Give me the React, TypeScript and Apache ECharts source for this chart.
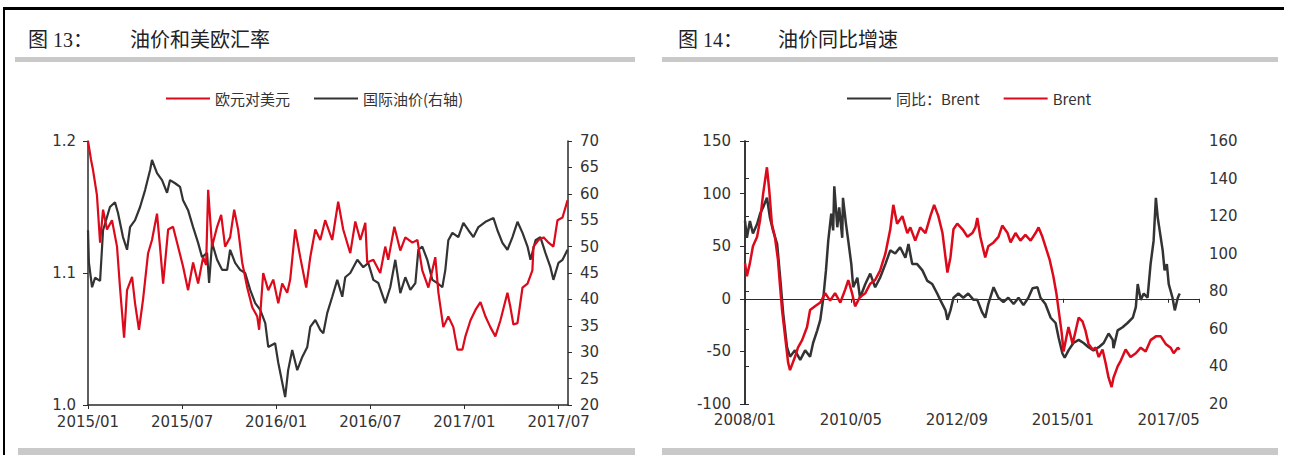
import React, { useEffect, useRef } from "react";
import * as echarts from "echarts";

// ---------- Chart 1 (图13): months since 2015/01 ----------
const eurMonth = [0, 0.19, 0.32, 0.57, 0.77, 0.96, 1.21, 1.53, 1.85, 2.04, 2.3, 2.49, 2.81, 3.0, 3.25, 3.51, 3.83, 4.08, 4.4, 4.59, 4.79, 5.11, 5.42, 5.74, 6.06, 6.38, 6.7, 7.02, 7.34, 7.53, 7.66, 7.91, 8.23, 8.49, 8.74, 9.06, 9.32, 9.57, 9.83, 10.15, 10.47, 10.79, 10.91, 11.17, 11.49, 11.81, 12.13, 12.38, 12.7, 12.89, 13.21, 13.53, 13.91, 14.17, 14.49, 14.81, 15.12, 15.57, 15.95, 16.27, 16.72, 17.04, 17.36, 17.68, 17.8, 18.19, 18.63, 18.95, 19.14, 19.53, 19.91, 20.23, 20.68, 21.0, 21.31, 21.7, 22.14, 22.34, 22.65, 22.97, 23.29, 23.55, 23.87, 24.06, 24.38, 24.7, 25.02, 25.34, 25.65, 25.97, 26.29, 26.74, 26.93, 27.12, 27.38, 27.7, 28.02, 28.33, 28.4, 28.72, 29.04, 29.36, 29.67, 29.93, 30.25, 30.57];
const eurRate = [1.2, 1.186, 1.178, 1.159, 1.123, 1.148, 1.133, 1.14, 1.12, 1.089, 1.051, 1.087, 1.097, 1.077, 1.057, 1.08, 1.115, 1.125, 1.145, 1.12, 1.092, 1.133, 1.135, 1.12, 1.105, 1.087, 1.108, 1.092, 1.112, 1.106, 1.163, 1.12, 1.135, 1.144, 1.12, 1.127, 1.148, 1.133, 1.108, 1.089, 1.074, 1.067, 1.057, 1.1, 1.087, 1.095, 1.077, 1.092, 1.085, 1.095, 1.133, 1.112, 1.089, 1.112, 1.133, 1.125, 1.14, 1.125, 1.154, 1.133, 1.115, 1.139, 1.125, 1.138, 1.108, 1.11, 1.1, 1.12, 1.11, 1.135, 1.117, 1.127, 1.123, 1.125, 1.102, 1.089, 1.112, 1.085, 1.059, 1.067, 1.059, 1.042, 1.042, 1.052, 1.064, 1.072, 1.078, 1.067, 1.059, 1.052, 1.064, 1.085, 1.074, 1.061, 1.062, 1.089, 1.092, 1.102, 1.12, 1.125, 1.127, 1.123, 1.12, 1.14, 1.142, 1.155];

const oilMonth = [0, 0.06, 0.26, 0.45, 0.77, 0.96, 1.4, 1.72, 1.91, 2.23, 2.49, 2.68, 3.0, 3.32, 3.64, 3.96, 4.08, 4.4, 4.72, 5.04, 5.23, 5.55, 5.87, 6.06, 6.38, 6.7, 7.02, 7.27, 7.59, 7.72, 7.91, 8.23, 8.55, 8.87, 9.06, 9.38, 9.7, 10.02, 10.34, 10.66, 10.98, 11.3, 11.49, 11.93, 12.13, 12.44, 12.57, 12.76, 13.02, 13.34, 13.66, 13.98, 14.17, 14.49, 14.81, 15.0, 15.25, 15.57, 15.89, 16.21, 16.4, 16.72, 17.17, 17.55, 17.87, 18.19, 18.51, 18.95, 19.27, 19.59, 19.91, 20.23, 20.55, 20.87, 21.06, 21.31, 21.63, 21.95, 22.27, 22.59, 22.78, 22.97, 23.23, 23.61, 23.93, 24.25, 24.57, 24.89, 25.34, 25.85, 26.1, 26.42, 26.74, 27.06, 27.38, 27.7, 28.02, 28.21, 28.53, 28.84, 29.16, 29.48, 29.67, 29.99, 30.25, 30.57];
const oilPrice = [53.1, 46.9, 42.3, 44.1, 43.5, 53.1, 57.5, 58.4, 56.4, 51.8, 49.4, 53.7, 55.0, 57.5, 60.7, 64.5, 66.4, 63.9, 62.6, 60.2, 62.6, 62.0, 61.3, 58.8, 56.9, 53.7, 50.7, 48.0, 48.8, 43.1, 50.7, 47.5, 45.6, 45.6, 49.4, 46.9, 45.6, 45.0, 41.8, 39.3, 38.0, 35.5, 31.0, 31.7, 28.0, 23.4, 21.5, 26.6, 30.4, 26.6, 29.1, 31.0, 34.8, 36.1, 34.2, 33.6, 37.4, 40.5, 43.7, 40.5, 44.2, 45.0, 47.5, 46.1, 46.9, 43.7, 43.1, 39.3, 42.3, 47.5, 41.2, 44.2, 41.8, 43.1, 49.4, 50.0, 47.5, 43.7, 43.1, 42.3, 45.6, 51.2, 52.6, 51.8, 54.5, 53.1, 51.8, 53.7, 54.7, 55.4, 53.1, 50.7, 49.4, 51.8, 54.7, 52.6, 50.0, 47.5, 51.2, 51.8, 48.8, 46.1, 43.7, 46.9, 47.5, 49.4];

// ---------- Chart 2 (图14): months since 2008/01 ----------
const yoyMonth = [0, 0.5, 1.3, 2.1, 3.2, 4.0, 4.8, 5.8, 6.6, 7.4, 8.5, 9.3, 10.1, 11.1, 11.9, 13.2, 14.6, 15.9, 17.2, 18.0, 19.1, 19.9, 20.7, 21.4, 22.0, 22.8, 23.3, 23.6, 24.4, 24.9, 25.7, 25.9, 26.7, 27.3, 28.1, 28.6, 29.7, 30.4, 31.8, 33.1, 34.4, 35.7, 37.1, 38.4, 39.7, 41.0, 42.4, 43.2, 44.2, 45.5, 46.9, 48.2, 49.5, 50.8, 51.6, 53.0, 53.5, 54.3, 55.1, 56.4, 57.7, 59.0, 60.4, 61.4, 62.7, 63.5, 64.3, 65.7, 67.0, 68.3, 69.6, 71.0, 72.3, 73.6, 74.9, 76.0, 77.3, 78.1, 79.4, 80.8, 82.1, 82.9, 83.9, 84.5, 85.5, 86.8, 88.2, 89.5, 90.8, 92.1, 93.5, 94.8, 96.1, 97.2, 97.4, 98.5, 99.8, 101.1, 102.5, 103.3, 103.8, 104.6, 105.4, 106.4, 107.2, 108.0, 108.6, 109.1, 109.6, 110.4, 110.9, 111.5, 112.0, 113.0, 113.6, 114.4, 114.9];
const yoyValue = [74, 58, 74, 62, 71, 81, 87, 96, 77, 65, 52, 20, -14, -46, -55, -49, -58, -49, -55, -42, -30, -20, 1, 27, 55, 81, 65, 107, 68, 87, 58, 96, 71, 55, 33, 11, 20, 1, 14, 24, 11, 20, 33, 46, 43, 49, 39, 52, 33, 33, 27, 17, 14, 5, -1, -11, -20, -11, 1, 5, 1, 5, -1, -1, -13, -18, -5, 11, 1, -3, 1, -5, 1, -6, 1, 10, 11, 1, -5, -18, -23, -37, -52, -56, -49, -42, -39, -42, -46, -49, -46, -42, -33, -39, -47, -30, -27, -23, -18, -8, 14, -1, 5, 1, 33, 55, 96, 77, 65, 46, 27, 33, 14, 1, -11, 1, 5];

const brentMonth = [0, 0.5, 1.3, 2.1, 3.2, 4.0, 4.8, 5.8, 6.4, 7.1, 7.9, 8.7, 9.3, 9.8, 10.6, 11.4, 11.9, 13.2, 14.0, 15.1, 16.4, 17.2, 18.5, 19.9, 21.2, 22.5, 23.8, 25.2, 26.5, 27.3, 28.3, 29.1, 30.4, 31.8, 33.1, 34.4, 35.7, 37.1, 38.4, 39.2, 40.2, 41.6, 42.9, 43.7, 45.0, 46.3, 47.7, 49.0, 50.0, 51.1, 52.2, 53.0, 53.5, 54.3, 55.1, 56.1, 57.5, 58.8, 60.1, 60.9, 61.4, 62.2, 63.5, 64.3, 65.7, 67.0, 68.0, 69.4, 70.2, 71.5, 72.8, 74.1, 75.5, 76.8, 77.6, 78.6, 79.7, 80.5, 81.5, 82.3, 82.9, 83.7, 84.2, 85.0, 85.5, 86.6, 87.4, 88.2, 89.2, 90.0, 90.8, 91.9, 92.7, 93.5, 94.5, 95.3, 96.1, 96.9, 97.4, 98.5, 99.3, 100.6, 101.9, 103.3, 104.6, 105.9, 107.2, 108.6, 109.9, 111.2, 112.5, 113.3, 114.4, 114.9];
const brentPrice = [95, 88, 95, 104, 109, 118, 132, 146, 134, 116, 109, 97, 82, 70, 56, 42, 38, 45, 50, 54, 61, 70, 72, 74, 79, 75, 79, 74, 81, 86, 79, 72, 77, 79, 84, 86, 91, 100, 113, 126, 116, 120, 111, 114, 107, 114, 111, 120, 126, 120, 111, 98, 90, 98, 113, 116, 113, 109, 111, 114, 119, 109, 98, 104, 106, 109, 115, 111, 106, 111, 107, 110, 107, 111, 114, 109, 102, 97, 88, 79, 70, 58, 48, 56, 61, 52, 59, 66, 64, 59, 52, 49, 50, 45, 49, 42, 34, 29, 34, 40, 43, 49, 45, 47, 50, 48, 54, 56, 56, 52, 50, 47, 50, 49];

const RED = "#dc0a1a";
const DARK = "#333333";
const AXIS = "#2b2b2b";
const LABEL_FONT = "'DejaVu Sans', sans-serif";
const CJK_FONT = "'Noto Sans CJK SC', sans-serif";
const TITLE_FONT = "'Liberation Serif', 'Noto Sans CJK SC', serif";

const zip = (xs: number[], ys: number[]) => xs.map((x, i) => [x, ys[i]]);
const pad = (n: number) => (n < 10 ? "0" + n : "" + n);
const monthLabel = (startYear: number, startMonth: number, step: number, last: number) => (v: number) => {
  if (Math.abs(v / step - Math.round(v / step)) > 1e-6 || v > last + 1e-6) return "";
  const total = startMonth - 1 + Math.round(v);
  return startYear + Math.floor(total / 12) + "/" + pad((total % 12) + 1);
};

const axisLabel = { color: "#333", fontSize: 15, lineHeight: 15, fontFamily: LABEL_FONT };
const axisLine = { show: true, lineStyle: { color: AXIS, width: 1.5 } };
const legendText = { fontSize: 15, color: "#333", fontFamily: CJK_FONT };

export default function App() {
  const ref = useRef<HTMLDivElement>(null);
  useEffect(() => {
    if (!ref.current) return;
    const chart = echarts.init(ref.current, undefined, { renderer: "svg" });
    const option: any = {
      animation: false,
      backgroundColor: "#fff",
      graphic: [
        { type: "rect", shape: { x: 3, y: 7, width: 1281, height: 3 }, style: { fill: "#000" } },
        { type: "rect", shape: { x: 3, y: 7, width: 2, height: 448 }, style: { fill: "#000" } },
        { type: "rect", shape: { x: 15, y: 57, width: 620, height: 5 }, style: { fill: "#c9c9c9" } },
        { type: "rect", shape: { x: 662, y: 57, width: 616, height: 5 }, style: { fill: "#c9c9c9" } },
        { type: "rect", shape: { x: 18, y: 448, width: 617, height: 7 }, style: { fill: "#c9c9c9" } },
        { type: "rect", shape: { x: 662, y: 448, width: 616, height: 7 }, style: { fill: "#c9c9c9" } },
        { type: "text", x: 28, y: 40, style: { text: "图 13：", font: "20px " + TITLE_FONT, fill: "#222", verticalAlign: "middle" } },
        { type: "text", x: 130, y: 40, style: { text: "油价和美欧汇率", font: "20px " + TITLE_FONT, fill: "#222", verticalAlign: "middle" } },
        { type: "text", x: 678, y: 40, style: { text: "图 14：", font: "20px " + TITLE_FONT, fill: "#222", verticalAlign: "middle" } },
        { type: "text", x: 778, y: 40, style: { text: "油价同比增速", font: "20px " + TITLE_FONT, fill: "#222", verticalAlign: "middle" } },
      ],
      legend: [
        {
          data: ["欧元对美元", "国际油价(右轴)"],
          left: 161, top: 86, icon: "rect", itemWidth: 44, itemHeight: 2, itemGap: 24,
          textStyle: legendText,
        },
        {
          data: ["同比：Brent", "Brent"],
          left: 842, top: 86, icon: "rect", itemWidth: 44, itemHeight: 2, itemGap: 24,
          textStyle: legendText,
        },
      ],
      grid: [
        { left: 88, top: 141, width: 480, height: 264 },
        { left: 745, top: 141, width: 454, height: 263 },
      ],
      xAxis: [
        {
          gridIndex: 0, type: "value", min: 0, max: 30.6, interval: 6, position: "bottom",
          axisLine: { ...axisLine, onZero: false },
          axisTick: { show: true, length: 4, lineStyle: { color: AXIS } },
          axisLabel: { ...axisLabel, margin: 9, formatter: monthLabel(2015, 1, 6, 30), showMaxLabel: false },
          splitLine: { show: false },
        },
        {
          gridIndex: 1, type: "value", min: 0, max: 120, interval: 28, position: "bottom",
          axisLine: { show: false, onZero: false },
          axisTick: { show: false },
          axisLabel: { ...axisLabel, margin: 8, formatter: monthLabel(2008, 1, 28, 112), showMaxLabel: false },
          splitLine: { show: false },
        },
        {
          gridIndex: 1, type: "value", min: 0, max: 120, interval: 28, position: "bottom",
          axisLine: { show: true, onZero: true, onZeroAxisIndex: 2, lineStyle: { color: AXIS, width: 1.2 } },
          axisTick: { show: true, length: 4, lineStyle: { color: AXIS } },
          axisLabel: { show: false },
          splitLine: { show: false },
        },
      ],
      yAxis: [
        {
          gridIndex: 0, type: "value", position: "left", min: 1.0, max: 1.2, interval: 0.1,
          axisLine, axisTick: { show: true, length: 5, lineStyle: { color: AXIS } },
          axisLabel: { ...axisLabel, margin: 12, formatter: (v: number) => v.toFixed(1) },
          splitLine: { show: false },
        },
        {
          gridIndex: 0, type: "value", position: "right", min: 20, max: 70, interval: 5,
          axisLine, axisTick: { show: true, length: 4, lineStyle: { color: AXIS } },
          axisLabel: { ...axisLabel, margin: 12 },
          splitLine: { show: false },
        },
        {
          gridIndex: 1, type: "value", position: "left", min: -100, max: 150, interval: 50,
          axisLine, axisTick: { show: true, length: 5, lineStyle: { color: AXIS } },
          axisLabel: { ...axisLabel, margin: 14 },
          splitLine: { show: false },
        },
        {
          gridIndex: 1, type: "value", position: "right", min: 20, max: 160, interval: 20,
          axisLine, axisTick: { show: true, length: 4, lineStyle: { color: AXIS } },
          axisLabel: { ...axisLabel, margin: 10 },
          splitLine: { show: false },
        },
      ],
      series: [
        {
          name: "国际油价(右轴)", type: "line", xAxisIndex: 0, yAxisIndex: 1,
          data: zip(oilMonth, oilPrice), showSymbol: false, symbol: "none",
          itemStyle: { color: DARK }, lineStyle: { color: DARK, width: 2.2 },
        },
        {
          name: "欧元对美元", type: "line", xAxisIndex: 0, yAxisIndex: 0,
          data: zip(eurMonth, eurRate), showSymbol: false, symbol: "none",
          itemStyle: { color: RED }, lineStyle: { color: RED, width: 2.2 },
        },
        {
          name: "同比：Brent", type: "line", xAxisIndex: 1, yAxisIndex: 2,
          data: zip(yoyMonth, yoyValue), showSymbol: false, symbol: "none",
          itemStyle: { color: DARK }, lineStyle: { color: DARK, width: 2.5 },
        },
        {
          name: "Brent", type: "line", xAxisIndex: 1, yAxisIndex: 3,
          data: zip(brentMonth, brentPrice), showSymbol: false, symbol: "none",
          itemStyle: { color: RED }, lineStyle: { color: RED, width: 2.5 },
        },
      ],
    };
    chart.setOption(option);
    return () => chart.dispose();
  }, []);
  return (
    <div
      ref={ref}
      style={{ position: "absolute", left: 0, top: 0, width: 1293, height: 455, background: "#fff" }}
    />
  );
}
